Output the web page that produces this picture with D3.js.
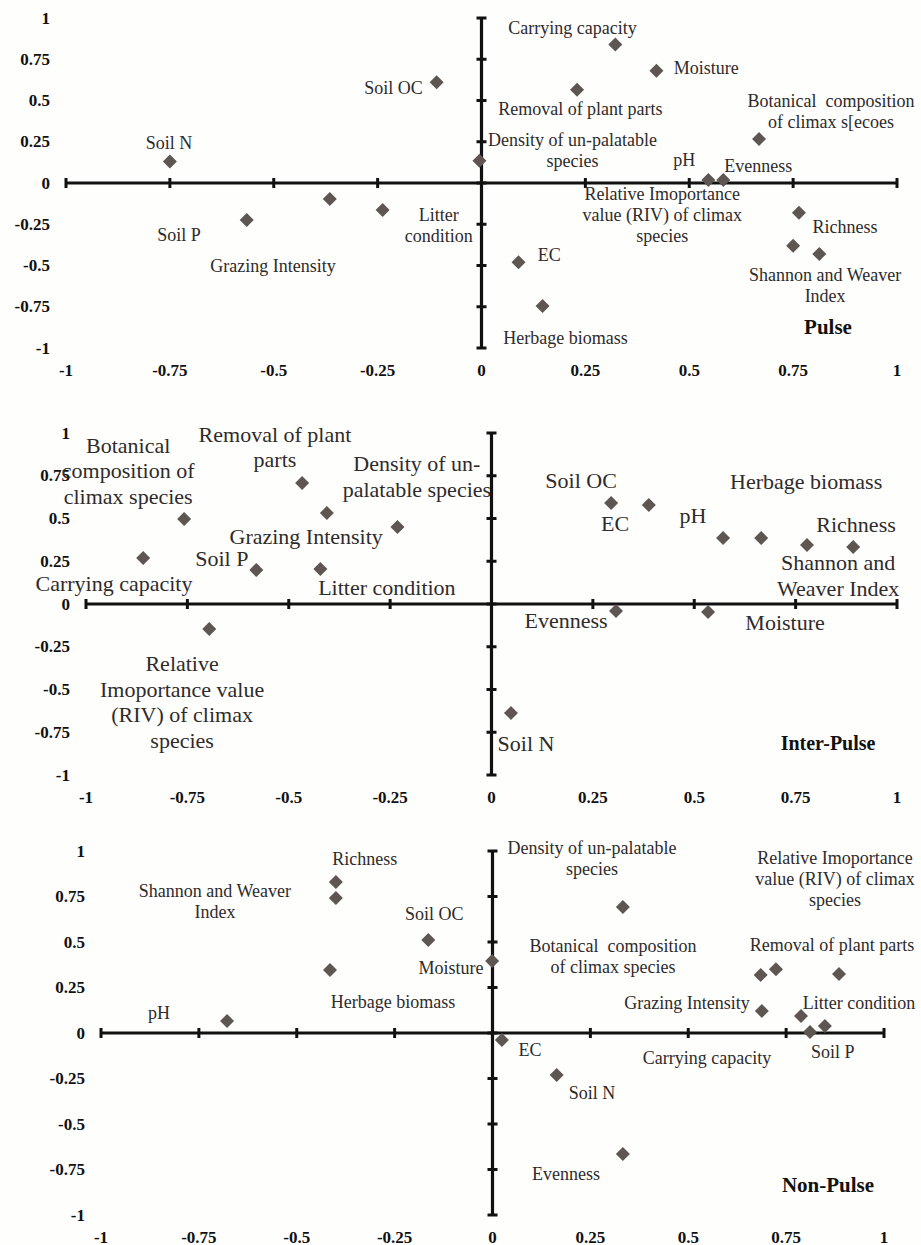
<html lang="en">
<head>
<meta charset="UTF-8">
<title>Pulse / Inter-Pulse / Non-Pulse</title>
<style>
    body { margin: 0; background: #fefefd; }
    svg { display: block; }
    .lbl { font-family: "Liberation Serif", "Times New Roman", serif; fill: #2e2b2a; white-space: pre; }
    .tick-lbl { font-family: "Liberation Serif", "Times New Roman", serif; font-weight: bold; font-size: 17px; fill: #111; }
    .title { font-family: "Liberation Serif", "Times New Roman", serif; font-weight: bold; fill: #111; }
</style>
</head>
<body>
<svg id="chart" width="921" height="1245"></svg>
<script src="https://cdn.jsdelivr.net/npm/d3@7"></script>
<script>
// ticks shared by all three panels
const tickValues = [-1, -0.75, -0.5, -0.25, 0, 0.25, 0.5, 0.75, 1];
const tickLabels = ["-1", "-0.75", "-0.5", "-0.25", "0", "0.25", "0.5", "0.75", "1"];

// ---- Pulse ----
const pulseNames = ["Soil N", "Soil P", "Grazing Intensity", "Litter condition", "Soil OC",
    "Density of un-palatable species", "Carrying capacity", "Moisture", "Removal of plant parts",
    "Botanical composition", "pH", "Evenness", "Richness", "RIV", "Shannon and Weaver Index",
    "EC", "Herbage biomass"];
const pulseX = [-0.75, -0.565, -0.365, -0.238, -0.108, -0.005, 0.322, 0.421, 0.23, 0.668, 0.546, 0.582, 0.764, 0.75, 0.813, 0.089, 0.147];
const pulseY = [0.13, -0.225, -0.097, -0.164, 0.61, 0.135, 0.84, 0.68, 0.565, 0.267, 0.018, 0.018, -0.18, -0.38, -0.43, -0.48, -0.745];
const pulseLabels = ["Soil N", "Soil P", "Grazing Intensity", "Litter|condition", "Soil OC",
    "Carrying capacity", "Moisture", "Removal of plant parts", "Botanical  composition|of climax s[ecoes",
    "Density of un-palatable|species", "pH", "Evenness", "Relative Imoportance|value (RIV) of climax|species",
    "Richness", "Shannon and Weaver|Index", "EC", "Herbage biomass"];
// label anchors (data units)
const pulseLabelPos = [[-0.752, 0.242], [-0.728, -0.315], [-0.502, -0.503], [-0.103, -0.255], [-0.212, 0.576],
    [0.219, 0.939], [0.541, 0.697], [0.238, 0.448], [0.841, 0.436],
    [0.219, 0.2], [0.488, 0.139], [0.666, 0.103], [0.435, -0.194],
    [0.875, -0.267], [0.827, -0.621], [0.163, -0.436], [0.202, -0.939]];

// ---- Inter-Pulse ----
const interNames = ["Carrying capacity", "Botanical composition", "Removal of plant parts", "Grazing Intensity",
    "Density of un-palatable species", "Soil P", "Litter condition", "RIV", "Soil OC", "EC", "pH",
    "Herbage biomass", "Richness", "Shannon and Weaver Index", "Evenness", "Moisture", "Soil N"];
const interX = [-0.859, -0.758, -0.467, -0.406, -0.232, -0.58, -0.422, -0.696, 0.295, 0.388, 0.571, 0.665, 0.778, 0.892, 0.307, 0.534, 0.048];
const interY = [0.269, 0.497, 0.708, 0.532, 0.45, 0.199, 0.205, -0.146, 0.591, 0.579, 0.386, 0.386, 0.345, 0.333, -0.041, -0.047, -0.637];
const interLabels = ["Botanical|composition of|climax species", "Removal of plant|parts", "Density of un-|palatable species",
    "Grazing Intensity", "Soil P", "Carrying capacity", "Litter condition",
    "Relative|Imoportance value|(RIV) of climax|species", "Soil OC", "EC", "pH", "Herbage biomass",
    "Richness", "Shannon and|Weaver Index", "Evenness", "Moisture", "Soil N"];
const interLabelPos = [[-0.896, 0.778], [-0.534, 0.918], [-0.184, 0.746],
    [-0.457, 0.392], [-0.665, 0.269], [-0.931, 0.117], [-0.258, 0.094],
    [-0.763, -0.573], [0.221, 0.725], [0.305, 0.468], [0.497, 0.515], [0.776, 0.719],
    [0.899, 0.462], [0.855, 0.167], [0.184, -0.099], [0.724, -0.111], [0.085, -0.813]];

// ---- Non-Pulse ----
const nonNames = ["pH", "Richness", "Shannon and Weaver Index", "Herbage biomass", "Soil OC", "Moisture",
    "Density of un-palatable species", "EC", "Soil N", "Evenness", "Botanical composition",
    "Removal of plant parts", "RIV", "Grazing Intensity", "Litter condition", "Carrying capacity", "Soil P"];
const nonX = [-0.678, -0.4, -0.4, -0.415, -0.164, -0.001, 0.333, 0.024, 0.164, 0.333, 0.685, 0.724, 0.885, 0.688, 0.788, 0.849, 0.811];
const nonY = [0.066, 0.83, 0.742, 0.346, 0.511, 0.396, 0.692, -0.038, -0.231, -0.665, 0.319, 0.35, 0.324, 0.121, 0.093, 0.038, 0.005];
const nonLabels = ["Richness", "Shannon and Weaver|Index", "Soil OC", "Moisture", "Herbage biomass", "pH",
    "Density of un-palatable|species", "Relative Imoportance|value (RIV) of climax|species",
    "Botanical  composition|of climax species", "Removal of plant parts", "Grazing Intensity",
    "Litter condition", "EC", "Carrying capacity", "Soil P", "Soil N", "Evenness"];
const nonLabelPos = [[-0.326, 0.956], [-0.709, 0.725], [-0.149, 0.654], [-0.106, 0.357], [-0.254, 0.17], [-0.852, 0.11],
    [0.254, 0.959], [0.875, 0.846],
    [0.308, 0.42], [0.867, 0.484], [0.497, 0.165],
    [0.936, 0.165], [0.096, -0.093], [0.548, -0.137], [0.869, -0.104], [0.254, -0.33], [0.188, -0.775]];

// panel layout (pixels)
const panels = [
    {title: "Pulse", titlePos: [0.834, -0.873], x: pulseX, y: pulseY, labels: pulseLabels, labelPos: pulseLabelPos,
     xr: [66, 897], yr: [348, 18], yLblRight: 50, xLblY: 370, font: 18, lh: 21, titleFont: 21},
    {title: "Inter-Pulse", titlePos: [0.83, -0.813], x: interX, y: interY, labels: interLabels, labelPos: interLabelPos,
     xr: [86, 897], yr: [775, 433], yLblRight: 70, xLblY: 797, font: 22, lh: 25.5, titleFont: 20},
    {title: "Non-Pulse", titlePos: [0.857, -0.835], x: nonX, y: nonY, labels: nonLabels, labelPos: nonLabelPos,
     xr: [101, 884], yr: [1215, 851], yLblRight: 85, xLblY: 1237, font: 18, lh: 21, titleFont: 21}
];

const svg = d3.select("#chart");
const diamond = d3.symbol().type(d3.symbolSquare).size(98);

panels.forEach(p => {
    const x = d3.scaleLinear().domain([-1, 1]).range(p.xr);
    const y = d3.scaleLinear().domain([-1, 1]).range(p.yr);
    const g = svg.append("g");

    // axes cross at 0
    g.append("line").attr("x1", x(-1)).attr("x2", x(1)).attr("y1", y(0)).attr("y2", y(0))
        .attr("stroke", "#111").attr("stroke-width", 3.2);
    g.append("line").attr("x1", x(0)).attr("x2", x(0)).attr("y1", y(-1)).attr("y2", y(1))
        .attr("stroke", "#111").attr("stroke-width", 3.2);

    // cross ticks
    g.selectAll(".xt").data(tickValues).enter().append("line")
        .attr("x1", d => x(d)).attr("x2", d => x(d))
        .attr("y1", y(0) - 5).attr("y2", y(0) + 5)
        .attr("stroke", "#111").attr("stroke-width", 3);
    g.selectAll(".yt").data(tickValues).enter().append("line")
        .attr("y1", d => y(d)).attr("y2", d => y(d))
        .attr("x1", x(0) - 5).attr("x2", x(0) + 5)
        .attr("stroke", "#111").attr("stroke-width", 3);

    // tick labels
    g.selectAll(".xl").data(tickValues).enter().append("text")
        .attr("class", "tick-lbl")
        .attr("x", d => x(d)).attr("y", p.xLblY)
        .attr("text-anchor", "middle").attr("dominant-baseline", "central")
        .text((d, i) => tickLabels[i]);
    g.selectAll(".yl").data(tickValues).enter().append("text")
        .attr("class", "tick-lbl")
        .attr("x", p.yLblRight).attr("y", d => y(d))
        .attr("text-anchor", "end").attr("dominant-baseline", "central")
        .text((d, i) => tickLabels[i]);

    // markers
    g.selectAll(".pt").data(p.x).enter().append("path")
        .attr("d", diamond)
        .attr("transform", (d, i) => `translate(${x(d)},${y(p.y[i])}) rotate(45)`)
        .attr("fill", "#5d5652");

    // variable labels
    p.labels.forEach((txt, i) => {
        const lines = txt.split("|");
        const [lx, ly] = p.labelPos[i];
        const cy = y(ly) - (lines.length - 1) * p.lh / 2;
        const t = g.append("text").attr("class", "lbl")
            .attr("font-size", p.font)
            .attr("text-anchor", "middle");
        lines.forEach((ln, j) => {
            t.append("tspan").attr("x", x(lx)).attr("y", cy + j * p.lh)
                .attr("dominant-baseline", "central").text(ln);
        });
    });

    // panel title
    g.append("text").attr("class", "title")
        .attr("font-size", p.titleFont)
        .attr("x", x(p.titlePos[0])).attr("y", y(p.titlePos[1]))
        .attr("text-anchor", "middle").attr("dominant-baseline", "central")
        .text(p.title);
});
</script>
</body>
</html>
